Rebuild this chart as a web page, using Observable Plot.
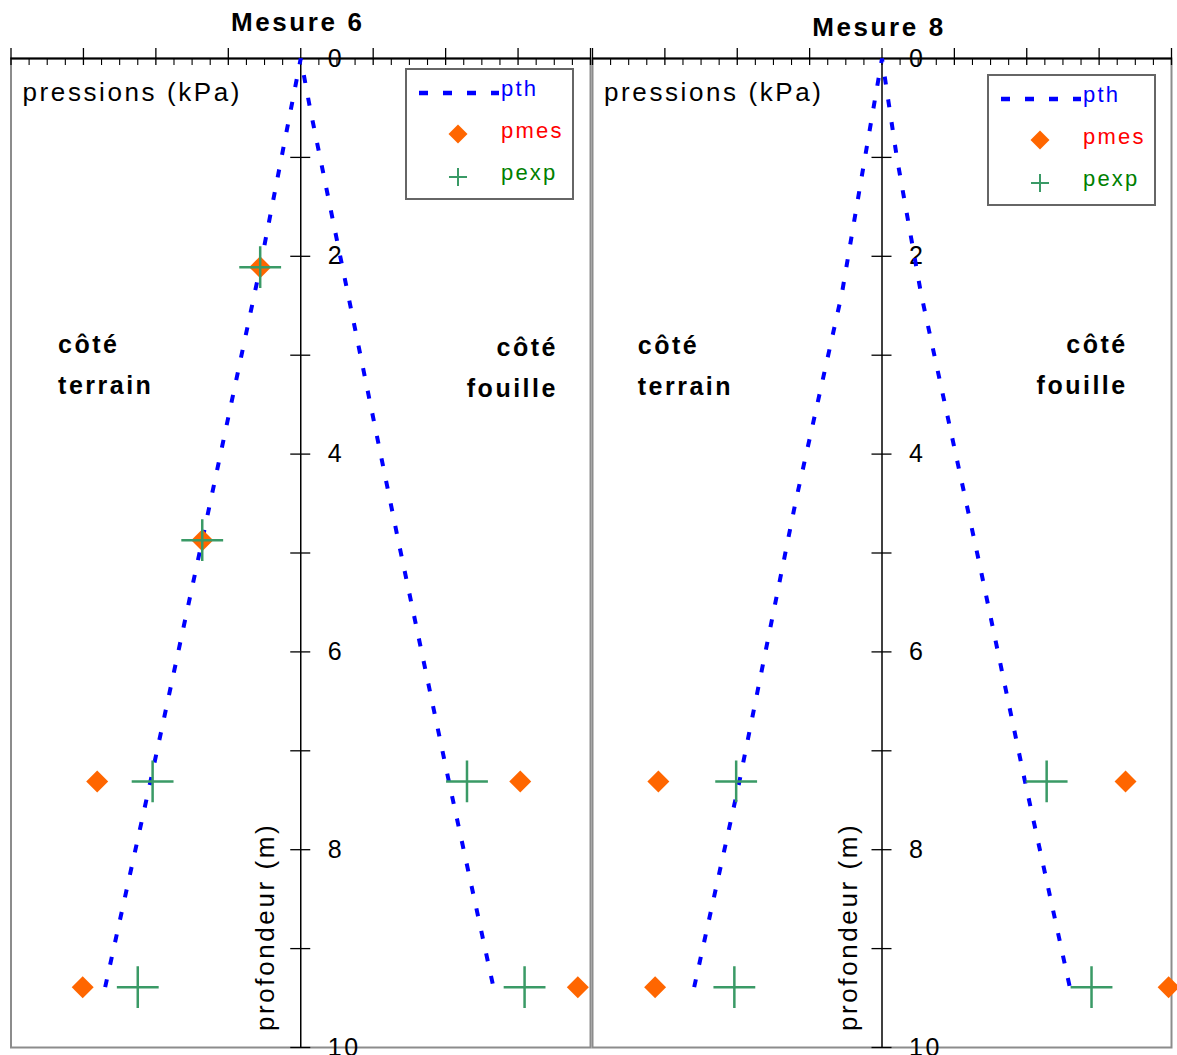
<!DOCTYPE html>
<html><head><meta charset="utf-8">
<script src="https://cdn.jsdelivr.net/npm/d3@7"></script>
<script src="https://cdn.jsdelivr.net/npm/@observablehq/plot@0.6"></script>
<style>
html,body{margin:0;padding:0;background:#fff;}
#chart{position:relative;width:1177px;height:1055px;overflow:hidden;background:#fff;}
#chart svg{position:absolute;left:0;top:0;}
#chart svg text{letter-spacing:0.1em;}
</style></head><body><div id="chart"></div>
<script>
// ---- axis ticks ----
const depthLabels = [0, 2, 4, 6, 8, 10];
const depthTicks = [1, 2, 3, 4, 5, 6, 7, 8, 9, 10];
const pMajor = [-80, -60, -40, -20, 0, 20, 40, 60, 80];
const pMinor = [-75, -70, -65, -55, -50, -45, -35, -30, -25, -15, -10, -5, 5, 10, 15, 25, 30, 35, 45, 50, 55, 65, 70, 75];

const titles = ["Mesure 6", "Mesure 8"];
const seriesNames = ["pth", "pmes", "pexp"];
const xLabel = "pressions (kPa)";
const yLabel = "profondeur (m)";

// ---- Mesure 6 ----
const m6PthDepth = [9.39, 7.31, 4.87, 2.11, 0, 0.51, 4.87, 7.31, 9.39];
const m6Pth      = [-54.0, -41.5, -27.2, -11.2, 0, 2.6, 26.9, 40.9, 53.2];
const m6MesDepth = [2.11, 4.87, 7.31, 9.39, 7.31, 9.39];
const m6Pmes     = [-11.2, -27.2, -56.2, -60.2, 60.6, 76.5];
const m6ExpDepth = [2.11, 4.87, 7.31, 9.39, 7.31, 9.39];
const m6Pexp     = [-11.2, -27.2, -40.9, -45.0, 45.9, 61.8];

// ---- Mesure 8 ----
const m8PthDepth = [9.39, 7.31, 4.47, 2.38, 1.0, 0, 1.0, 2.38, 5.12, 7.29, 9.39];
const m8Pth      = [-51.9, -39.4, -23.8, -11.1, -4.7, 0, 4.1, 10.8, 27.0, 39.4, 51.9];
const m8MesDepth = [7.31, 9.39, 7.31, 9.39];
const m8Pmes     = [-61.8, -62.7, 67.3, 79.2];
const m8ExpDepth = [7.31, 9.39, 7.31, 9.39];
const m8Pexp     = [-40.3, -40.8, 45.5, 57.9];

const FONT = '"Liberation Sans", Arial, Helvetica, sans-serif';
const C_PTH = "#0000ff", C_MES = "#ff6600", C_EXP = "#3a9a66";
const W = 1177, H = 1055;

function zip(ds, ps) { return ds.map((d, i) => ({depth: d, p: ps[i]})); }

function panel(o) {
  const pth = zip(o.pthD, o.pth), mes = zip(o.mesD, o.mes), exp = zip(o.expD, o.exp);
  return Plot.plot({
    width: W, height: H,
    marginLeft: o.left, marginRight: W - o.right, marginTop: 58, marginBottom: 8,
    x: {domain: [-80, 80], axis: null},
    y: {domain: [0, 10], reverse: true, axis: null},
    style: {background: "transparent", fontFamily: FONT, overflow: "visible"},
    marks: [
      Plot.frame({stroke: "#8c8c8c", strokeWidth: 2}),
      Plot.ruleX(pMajor, {x: d => d, y1: 0, y2: 0, insetTop: -10, insetBottom: -7, stroke: "#000", strokeWidth: 1.3}),
      Plot.ruleX(pMinor, {x: d => d, y1: 0, y2: 0, insetTop: 0, insetBottom: -7, stroke: "#000", strokeWidth: 1.1}),
      Plot.ruleY([0], {stroke: "#000", strokeWidth: 2}),
      Plot.ruleX([0], {stroke: "#000", strokeWidth: 1.5}),
      Plot.ruleY(depthTicks, {y: d => d, x1: 0, x2: 0, insetLeft: -10, insetRight: -10, stroke: "#000", strokeWidth: 1.3}),
      Plot.text(depthLabels, {x: 0, y: d => d, text: d => String(d), dx: 27, textAnchor: "start", fontSize: 25, fill: "#000"}),
      Plot.text([o.title], {frameAnchor: "top", lineAnchor: "middle", dx: -3, dy: o.titleDy, fontSize: 26, fontWeight: "bold", fill: "#000"}),
      Plot.text([xLabel], {frameAnchor: "top-left", lineAnchor: "middle", dx: 11.5, dy: 34, textAnchor: "start", fontSize: 26, fill: "#000"}),
      Plot.text([yLabel], {x: o.yLabX, y: 8.78, rotate: -90, fontSize: 26, fill: "#000"}),
      Plot.text(["côté"], {x: o.terrX, y: o.terrY, textAnchor: "start", fontSize: 25, fontWeight: "bold", fill: "#000"}),
      Plot.text(["terrain"], {x: o.terrX, y: o.terrY + 0.41, textAnchor: "start", fontSize: 25, fontWeight: "bold", fill: "#000"}),
      Plot.text(["côté"], {x: o.fouX, y: o.fouY, textAnchor: "end", fontSize: 25, fontWeight: "bold", fill: "#000"}),
      Plot.text(["fouille"], {x: o.fouX, y: o.fouY + 0.41, textAnchor: "end", fontSize: 25, fontWeight: "bold", fill: "#000"}),
      Plot.line(pth, {x: "p", y: "depth", stroke: C_PTH, strokeWidth: 4, strokeDasharray: "8,15", strokeLinecap: "butt", strokeLinejoin: "miter"}),
      Plot.dot(mes, {x: "p", y: "depth", symbol: "diamond2", r: 9.9, fill: C_MES}),
      Plot.dot(exp, {x: "p", y: "depth", symbol: "plus", r: 13.5, stroke: C_EXP, strokeWidth: 2.5})
    ]
  });
}

const chart = document.getElementById("chart");
chart.append(panel({title: titles[0], left: 10.5, right: 590, titleDy: -36,
  pthD: m6PthDepth, pth: m6Pth, mesD: m6MesDepth, mes: m6Pmes, expD: m6ExpDepth, exp: m6Pexp,
  yLabX: -9.7, terrX: -67.0, terrY: 2.90, fouX: 71.0, fouY: 2.93}));
chart.append(panel({title: titles[1], left: 592, right: 1171, titleDy: -31,
  pthD: m8PthDepth, pth: m8Pth, mesD: m8MesDepth, mes: m8Pmes, expD: m8ExpDepth, exp: m8Pexp,
  yLabX: -9.25, terrX: -67.5, terrY: 2.91, fouX: 67.9, fouY: 2.90}));

function legend(left, top) {
  const svg = d3.select("#chart").append("svg")
    .attr("width", 172).attr("height", 135)
    .style("left", left + "px").style("top", top + "px");
  svg.append("rect").attr("x", 1).attr("y", 1).attr("width", 167).attr("height", 130)
    .attr("fill", "#fff").attr("stroke", "#666").attr("stroke-width", 2);
  svg.append("line").attr("x1", 14).attr("x2", 94).attr("y1", 25).attr("y2", 25)
    .attr("stroke", C_PTH).attr("stroke-width", 4.5).attr("stroke-dasharray", "9,15");
  svg.append("path").attr("transform", "translate(53,66)")
    .attr("d", d3.symbol(d3.symbolDiamond2, 230)()).attr("fill", C_MES);
  svg.append("path").attr("transform", "translate(53,109)")
    .attr("d", d3.symbol(d3.symbolPlus, 108)()).attr("fill", "none").attr("stroke", C_EXP).attr("stroke-width", 2);
  const cols = ["#0000ff", "#ff0000", "#008000"];
  const ys = [20, 62, 104];
  seriesNames.forEach((n, i) => {
    svg.append("text").attr("x", 96).attr("y", ys[i]).attr("dy", "0.35em")
      .attr("fill", cols[i]).attr("font-family", FONT).attr("font-size", 22).text(n);
  });
}
legend(405, 68);
legend(987, 74);
</script></body></html>
